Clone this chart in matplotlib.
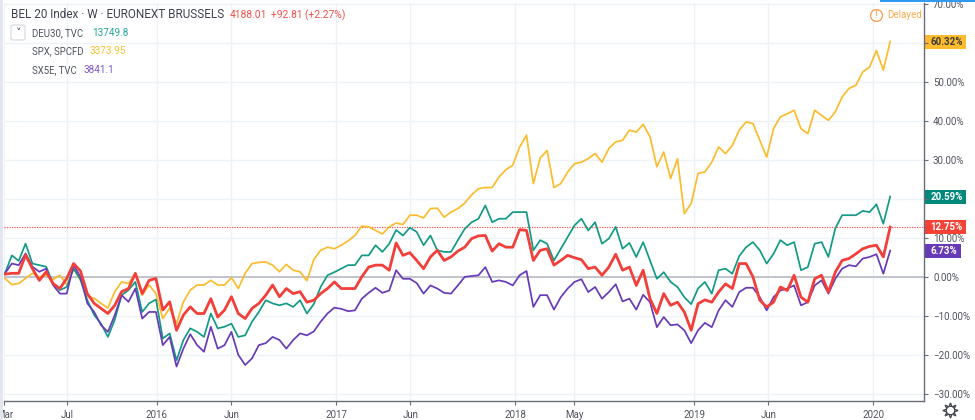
import numpy as np
import matplotlib
matplotlib.use('Agg')
import matplotlib.pyplot as plt
from matplotlib.lines import Line2D
from matplotlib.patches import Rectangle, FancyBboxPatch
from matplotlib.transforms import IdentityTransform

plt.rcParams['font.family'] = ['Roboto', 'DejaVu Sans']

# Data: % change, read every two weeks
# ------------------------------------
start_date = np.datetime64('2015-02-25')

spx = [-0.4, -2, -1.7, -0.4, 0.9, 0, 0.4, -0.7, 0.4, -2, 2, -0.9, -5, -5.5, -6.8, -8, -3.8, -1.3, -1.7, 0.9,
       -4.7, -2.1, -4.3, -10.7, -8, -12, -6.4, -3.4, -2.1, -2.1, -0.9, -2.1, -2.1, -0.2, -3, 0.9, 3.4, 3.7, 3.8, 3,
       1.3, 3.2, 1.7, 1.3, -1, 4.4, 6.8, 7.6, 7.2, 8.1, 9.2, 10.6, 13, 12.8, 11.9, 11, 12.8, 13.8, 13.4, 15.8,
       15.8, 15.1, 17.5, 17.6, 15.3, 16.6, 17.5, 18.9, 21, 22.6, 22.9, 22.9, 25.6, 27.5, 28.6, 33.3, 36.3, 23.9, 30.5, 32.4,
       22.9, 23.9, 26.9, 29, 29.4, 30.3, 31.6, 29.4, 32.9, 34.6, 35, 37.6, 37.1, 39.1, 35.9, 28.2, 32, 25.2, 30.3, 16.2,
       18.8, 26.5, 26.9, 29.4, 33.3, 31.6, 33.7, 37.6, 39.7, 39.3, 35, 30.7, 38, 41, 41.8, 42.7, 38, 36.7, 42.7, 41.4,
       40.1, 42.3, 46.1, 48.3, 49.1, 52.5, 53.8, 58, 53, 60.32]
deu30 = [0.9, 5.5, 4.1, 8.5, 3.4, 3, 2.6, -1.7, -3.4, -2.6, 2.1, -0.7, -6, -9.8, -12, -15.4, -11, -4.7, -3.4, -1.3,
         -9, -6.8, -5.8, -15.8, -14.5, -21.4, -16.2, -13.2, -14.1, -15.4, -9.4, -13.2, -12.8, -12, -15.4, -15, -11.5, -9, -6, -6.8,
         -7.3, -6.8, -7.7, -6, -9.4, -7, -2.6, 0.4, 1.2, 2.1, 3, 3, 5.5, 5.5, 8.1, 6.4, 8.5, 12, 10.6, 12.6,
         11.5, 8.1, 10.6, 6.8, 6.4, 6.4, 9.4, 12.3, 14, 14.9, 18.3, 14, 14.9, 14.9, 16.6, 16.6, 16.6, 6.8, 9.4, 8.5,
         4.2, 7.2, 10.2, 13.2, 14.9, 11.9, 14, 8.5, 9.8, 12.8, 7.2, 8.7, 5.1, 8.9, 4.2, -0.5, 1.2, -1.3, -2.6, -5.2,
         -7, -3, -1.3, -4.3, 1.7, 2.1, 0.8, 5.3, 7.6, 8.9, 6.8, 3.4, 5.9, 9.4, 8.1, 8.9, 1.7, 2.5, 8.5, 8.9,
         5.1, 12.4, 15.8, 15.8, 15.8, 16.9, 16.6, 18.6, 13.6, 20.59]
sx5e = [0.9, 3.4, 3, 6, 2.6, 1.3, 2.1, -2.1, -4.3, -4.3, 3, 0, -6.8, -9, -12.4, -14.1, -9.8, -4.7, -6.4, -3,
        -10.7, -9, -9, -17.5, -15.4, -23, -18.4, -14.7, -17.5, -19.2, -12.8, -18.4, -17.5, -14.1, -20, -22.6, -20.9, -17.5, -17, -15.4,
        -16.2, -18.4, -16.2, -14.5, -15, -14, -11.5, -9.4, -7.9, -8.2, -8.8, -8.6, -5.6, -4.1, -2.8, -4.1, -3.5, 1.7, -0.5, -0.5,
        -1.6, -4.3, -2.2, -3, -4.1, -4.3, -2.2, 0, 0.2, 0.4, 2.5, -1.3, -0.9, -1.3, -2.2, 0.4, 1.5, -7.7, -4.7, -4.7,
        -8.4, -5.2, -3, -1.3, -0.6, -3.9, -2.6, -5.6, -3.9, -1.9, -6.3, -5.6, -8.4, -4.6, -6.5, -12.9, -10.3, -12.4, -12.2, -13.7,
        -17, -13.7, -11.8, -12.9, -8.6, -6, -7.7, -3.9, -2.8, -2.8, -5.2, -8.6, -5.2, -3.5, -3, -2.2, -7.3, -6.5, -2.2, -0.9,
        -4.3, -0.5, 2.1, 3, 2.7, 4.7, 5.1, 5.8, 0.8, 6.73]
bel20 = [0.7, 0.9, 0.9, 5.6, 2.1, -0.9, 1.3, -1.7, -3, -0.4, 3.4, 1.5, -4.3, -6.8, -8.1, -9.4, -7.3, -3.8, -3, 0.9,
         -4.3, -0.9, -0.4, -8.5, -6.4, -13.7, -9.8, -7.7, -9.4, -9.4, -5.6, -10.3, -8.5, -5.1, -9.4, -10.7, -8.1, -6.8, -4.7, -2.1,
         -5.1, -3, -4.3, -3.8, -6.5, -6, -4.3, -3, -1.3, -3, -3, -3, 0, 2.5, 3, 3, 1.7, 8.7, 5.5, 6.2,
         4.2, 2.1, 5.1, 6.8, 4.2, 5.1, 6.6, 7.6, 9.8, 10.5, 10.6, 6.6, 8.5, 7.6, 7.6, 12.1, 11.9, 4.2, 6.8, 7.2,
         3, 4.2, 5.5, 4.9, 4.4, 2.1, 2.5, 0.4, 2.5, 5.8, 1.7, 2.5, -2.2, 1.7, -5.6, -9.4, -4.3, -7.3, -6.5, -9,
         -13.7, -6.9, -5.9, -6.5, -3.9, -1.8, -3, 3.4, 3.4, 0, -6, -7.7, -6.5, -2.6, -3.5, 0.4, -5.2, -6.5, -0.5, 0.4,
         -3.9, 1.2, 4.2, 4.7, 5.9, 7.2, 7.8, 8.1, 5.1, 12.75]

y_ticks = [-30, -20, -10, 0, 10, 20, 30, 40, 50, 60, 70]
# 20% and 60% sit behind the last value labels in the original
y_hidden = [20, 60]
x_tick_dates = ['2015-02-24', '2015-07-01', '2016-01-01', '2016-06-01', '2017-01-01', '2017-06-01',
                '2018-01-01', '2018-05-01', '2019-01-01', '2019-06-01', '2020-01-01']
x_tick_labels = ['Mar', 'Jul', '2016', 'Jun', '2017', 'Jun', '2018', 'May', '2019', 'Jun', '2020']

legend_names = ['DEU30, TVC', 'SPX, SPCFD', 'SX5E, TVC']
legend_values = ['13749.8', '3373.95', '3841.1']

TEAL, AMBER, PURPLE, RED = '#129a86', '#fbbc2d', '#673ab7', '#f23f3a'
GRID = '#edf2f7'
AXIS = '#6a6d78'
LABEL = '#50535e'
TOP = 10

W, H = 975, 420


def fx(px):
    return px / W


def fy(py):
    return 1 - py / H


def y_label(v):
    if v in y_hidden:
        return ''
    return f'\u2212{abs(v):.2f}%' if v < 0 else f'{v:.2f}%'


# Figure setup
# ------------
fig = plt.figure(figsize=(W / 100, H / 100), dpi=100)
ax = fig.add_axes([fx(4), fy(400.5), fx(924 - 4), fy(3) - fy(400.5)])
ax.set_zorder(9)
ax.patch.set_alpha(0)

dates = start_date + np.arange(len(bel20)) * np.timedelta64(14, 'D')

ax.set_xlim(np.datetime64('2015-02-23'), np.datetime64('2020-04-14'))
ax.set_ylim(-31.7, 70.2)

ax.set_xticks(np.array(x_tick_dates, dtype='datetime64[D]'))
ax.set_xticklabels(x_tick_labels)
ax.set_yticks(y_ticks)
ax.set_yticklabels([y_label(v) for v in y_ticks])
ax.yaxis.tick_right()
ax.tick_params(axis='both', length=3, width=0.8, color=AXIS, labelcolor=LABEL, labelsize=7, pad=3.5)

ax.grid(color=GRID, linewidth=1)
ax.set_axisbelow(True)
for side in ['top', 'left']:
    ax.spines[side].set_visible(False)
for side in ['right', 'bottom']:
    ax.spines[side].set_color(AXIS)
    ax.spines[side].set_linewidth(1)

# Zero line and last price line
# -----------------------------
ax.axhline(0, color='#b9bbc4', linewidth=1.2, zorder=1)
ax.axhline(bel20[-1], color=RED, linewidth=0.9, linestyle=(0, (1, 1)), zorder=1, alpha=0.85)

# Plot data
# ---------
ax.plot(dates, spx, color=AMBER, linewidth=1.25, zorder=2)
ax.plot(dates, deu30, color=TEAL, linewidth=1.25, zorder=3)
ax.plot(dates, sx5e, color=PURPLE, linewidth=1.25, zorder=4)
ax.plot(dates, bel20, color=RED, linewidth=2, zorder=5)

# Last value labels
# -----------------
for value, color, text_color in [(spx[-1], '#fdbb2d', '#3c3c3c'), (deu30[-1], '#00897b', 'white'),
                                 (bel20[-1], '#f44336', 'white'), (sx5e[-1], '#673ab7', 'white')]:
    label = f'{value:.2f}%'
    py = ax.transData.transform((0, value))[1]
    fig.add_artist(Rectangle((925, py - 7), 11 + 5 * len(label), 14, transform=IdentityTransform(),
                             facecolor=color, edgecolor='none', zorder=8))
    ax.annotate(label, (1.0, value), xycoords=ax.get_yaxis_transform(), xytext=(4.6, 0),
                textcoords='offset points', color=text_color, fontsize=7, fontweight='bold',
                va='center', ha='left', zorder=9, annotation_clip=False)

# Header text
# -----------
fig.text(fx(11), fy(14.5), 'BEL 20 Index \u00b7 W \u00b7 EURONEXT BRUSSELS', fontsize=8.5, color='#3f424d',
         va='center', zorder=TOP)
fig.text(fx(230), fy(15), '4188.01', fontsize=7.4, color='#f2504b', va='center', zorder=TOP)
fig.text(fx(271), fy(15), '+92.81 (+2.27%)', fontsize=7.4, color='#f2504b', va='center', zorder=TOP)

legend_colors = ['#26a69a', '#fbc02d', '#7e57c2']
legend_value_x = [92, 89, 84]
for k in range(3):
    py = 33 + k * 18.5
    fig.text(fx(32), fy(py), legend_names[k], fontsize=6.9, color=LABEL, va='center', zorder=TOP)
    fig.text(fx(legend_value_x[k]), fy(py), legend_values[k], fontsize=7.2, color=legend_colors[k],
             va='center', zorder=TOP)

fig.add_artist(FancyBboxPatch((fx(11), fy(40)), fx(14), fy(25) - fy(40), transform=fig.transFigure,
                              boxstyle='round,pad=0,rounding_size=0.003', facecolor='white',
                              edgecolor='#d6d8de', linewidth=0.8, zorder=TOP))
fig.text(fx(18.5), fy(32.5), '\u02c5', fontsize=8, color='#3f424d', ha='center', va='center',
         family='DejaVu Sans', zorder=TOP + 1)

# Delayed badge
# -------------
fig.add_artist(Line2D([fx(876)], [fy(14.5)], marker='o', markersize=8.5, markerfacecolor='white',
                      markeredgecolor='#ff9a4d', markeredgewidth=0.9, transform=fig.transFigure, zorder=TOP))
fig.text(fx(876), fy(14.5), '!', fontsize=7, color='#ff9a4d', ha='center', va='center', zorder=TOP + 1)
fig.text(fx(887), fy(15), 'Delayed', fontsize=7, color='#ffa94d', va='center', zorder=TOP)

# Window decoration
# -----------------
fig.add_artist(Rectangle((0, 0), fx(3), 1, transform=fig.transFigure, facecolor='#e3e5ef', edgecolor='none', zorder=TOP))
fig.add_artist(Rectangle((fx(880), fy(1.5)), fx(95), fy(0) - fy(1.5), transform=fig.transFigure,
                         facecolor='#2f9bf0', edgecolor='none', zorder=TOP))

# Settings gear
# -------------
fig.add_artist(Line2D([fx(949.5)], [fy(410)], marker=(8, 1, 0), markersize=11, markerfacecolor='white',
                      markeredgecolor='#3f424d', markeredgewidth=0.9, transform=fig.transFigure, zorder=TOP))
fig.add_artist(Line2D([fx(949.5)], [fy(410)], marker='o', markersize=6, markerfacecolor='white',
                      markeredgecolor='#3f424d', markeredgewidth=0.8, transform=fig.transFigure, zorder=TOP + 1))

fig.savefig('out.png', dpi=100)
